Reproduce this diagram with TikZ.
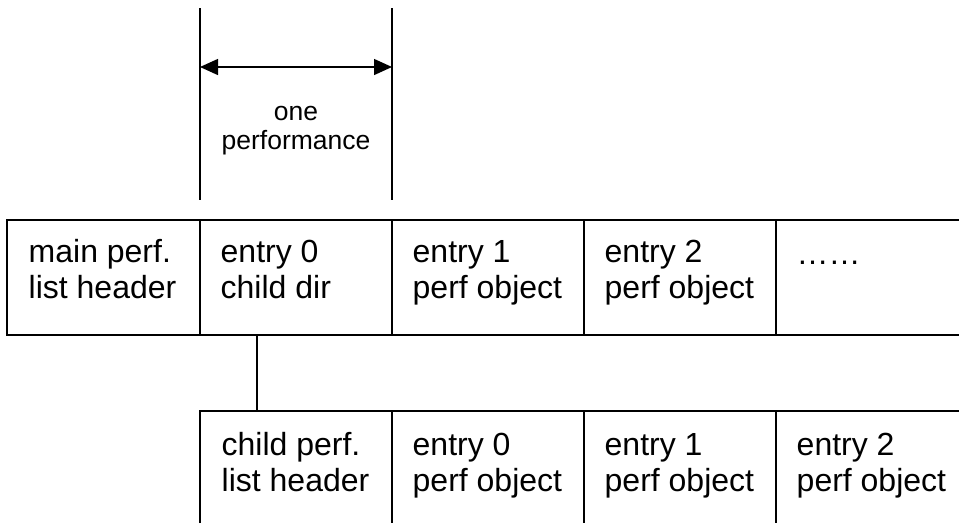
\documentclass[tikz,border=0pt]{standalone}
\usepackage{fontspec}
\setmainfont{Liberation Sans}
\usetikzlibrary{arrows.meta}
\begin{document}
\begin{tikzpicture}[x=1pt, y=-1pt, line width=1.4pt,
  cell/.style={rectangle, inner sep=0pt, outer sep=0pt, anchor=north west,
               minimum width=192pt, minimum height=115pt},
  lowcell/.style={cell, minimum height=112pt},
  celltext/.style={anchor=north west, inner sep=0pt, align=left,
                   font=\fontsize{32}{36}\selectfont},
  dimtext/.style={inner sep=0pt, align=center,
                  font=\fontsize{26.5}{29}\selectfont},
  dimarrow/.style={{Triangle[length=18pt,width=16pt]}-{Triangle[length=18pt,width=16pt]}}]
\useasboundingbox (0,0) rectangle (959,523);

% main performance list (top row)
\node[cell, minimum width=193pt] (c0) at (7,220) {};
\node[cell] (c1) at (200,220) {};
\node[cell] (c2) at (392,220) {};
\node[cell] (c3) at (584,220) {};
\node[cell, minimum width=183pt] (c4) at (776,220) {};

\draw (c4.north east) -- (c0.north west) -- (c0.south west) -- (c4.south east);
\foreach \c in {c1,c2,c3,c4} \draw (\c.north west) -- (\c.south west);

\node[celltext] (t0) at ([xshift=21pt,yshift=-17pt]c0.north west) {\strut main perf.\\list header};
\node[celltext] (t1) at ([xshift=20pt,yshift=-17pt]c1.north west) {\strut entry 0\\child dir};
\node[celltext] (t2) at ([xshift=20pt,yshift=-17pt]c2.north west) {\strut entry 1\\perf object};
\node[celltext] (t3) at ([xshift=20pt,yshift=-17pt]c3.north west) {\strut entry 2\\perf object};
\node[celltext] (t4) at ([xshift=20pt,yshift=-19pt]c4.north west) {\strut ……};

% child performance list (bottom row)
\node[lowcell] (d0) at (200,411) {};
\node[lowcell] (d1) at (392,411) {};
\node[lowcell] (d2) at (584,411) {};
\node[lowcell, minimum width=183pt] (d3) at (776,411) {};

\draw (d0.south west) -- (d0.north west) -- (d3.north east);
\foreach \c in {d1,d2,d3} \draw (\c.north west) -- (\c.south west);

\node[celltext] (u0) at ([xshift=21pt,yshift=-19pt]d0.north west) {\strut child perf.\\list header};
\node[celltext] (u1) at ([xshift=20pt,yshift=-19pt]d1.north west) {\strut entry 0\\perf object};
\node[celltext] (u2) at ([xshift=20pt,yshift=-19pt]d2.north west) {\strut entry 1\\perf object};
\node[celltext] (u3) at ([xshift=20pt,yshift=-19pt]d3.north west) {\strut entry 2\\perf object};

% link from the child directory entry to the child list
\draw ([xshift=57pt]c1.south west) -- ([xshift=57pt]d0.north west);

% extent of one performance
\coordinate (dl) at ([yshift=212pt]c1.north west);
\coordinate (dr) at ([yshift=212pt]c2.north west);
\draw (dl) -- ([yshift=20pt]c1.north west);
\draw (dr) -- ([yshift=20pt]c2.north west);
\coordinate (al) at ([yshift=153pt]c1.north west);
\coordinate (ar) at ([yshift=153pt]c2.north west);
\draw[dimarrow] (al) -- (ar);
\node[dimtext] (span) at (296,131) {one\\performance};
\end{tikzpicture}
\end{document}
